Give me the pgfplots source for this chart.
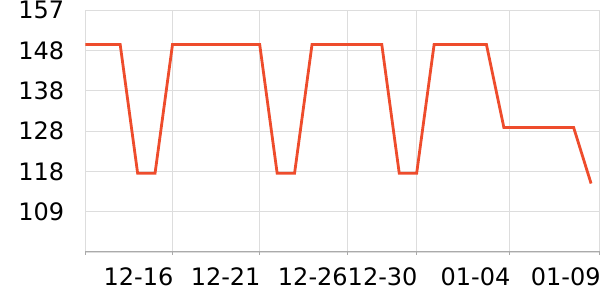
\documentclass[border=0pt]{standalone}
\usepackage{pgfplots}
\pgfplotsset{compat=1.18}
\usepackage{fontspec}
\setmainfont{DejaVu Sans}
\definecolor{lineorange}{RGB}{238,76,44}
\definecolor{gridgray}{RGB}{221,221,221}
\definecolor{axisgray}{RGB}{170,170,170}
\begin{document}
\fontsize{24}{28}\selectfont
\begin{tikzpicture}
\useasboundingbox (0,0) rectangle (600pt,300pt);
\begin{axis}[
  at={(85.3pt,48pt)}, anchor=south west,
  scale only axis, width=514.5pt, height=242pt,
  xmin=0, xmax=29.5,
  ymin=99.5, ymax=157.82,
  axis x line*=bottom, axis y line*=left,
  x axis line style={draw=axisgray, line width=1pt},
  y axis line style={draw=none},
  xtick={0,5,10,15,19,24.33,29.5},
  xticklabels={,12-16,12-21,12-26,12-30,01-04,01-09},
  ytick={99.5,109.22,118.94,128.66,138.38,148.1,157.82},
  yticklabels={,109,118,128,138,148,157},
  grid=major,
  major grid style={draw=gridgray, line width=0.8pt},
  xtick style={draw=axisgray, line width=0.8pt},
  tick align=outside,
  major tick length=3pt,
  ytick style={draw=none},
  xticklabel style={anchor=north east, inner sep=0pt, yshift=-12pt, xshift=1pt},
  yticklabel style={anchor=east, inner sep=0pt, xshift=-18pt},
  /pgf/number format/assume math mode=true,
  font=\fontsize{24}{28}\selectfont,
]
\addplot[lineorange, line width=2.8pt, line join=miter, mark=none] coordinates {
(0,149.5)(1,149.5)(2,149.5)(3,118.5)(4,118.5)(5,149.5)(6,149.5)(7,149.5)(8,149.5)(9,149.5)
(10,149.5)(11,118.5)(12,118.5)(13,149.5)(14,149.5)(15,149.5)(16,149.5)(17,149.5)(18,118.5)(19,118.5)
(20,149.5)(21,149.5)(22,149.5)(23,149.5)(24,129.5)(25,129.5)(26,129.5)(27,129.5)(28,129.5)(29,116.0)
};
\end{axis}
\end{tikzpicture}
\end{document}
